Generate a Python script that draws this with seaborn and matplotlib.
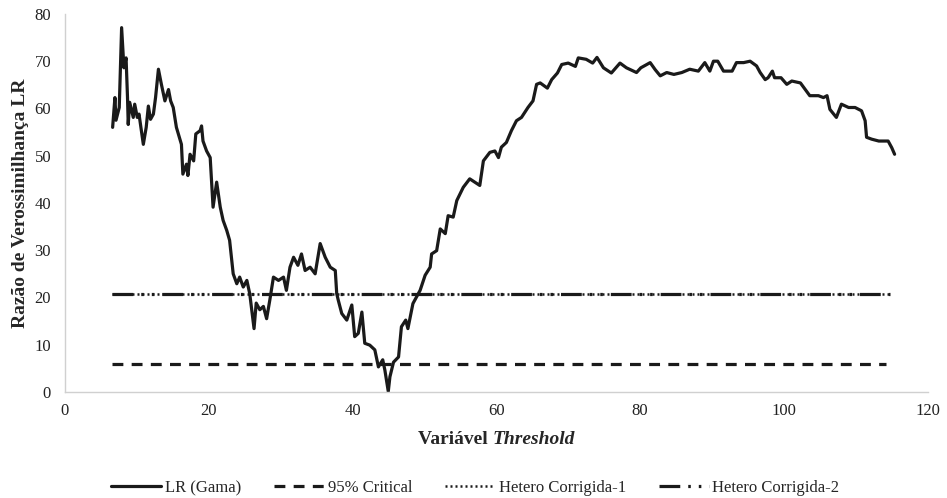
import matplotlib
matplotlib.use("Agg")
import matplotlib.pyplot as plt
import seaborn as sns
import pandas as pd
from matplotlib.offsetbox import TextArea, HPacker, AnchoredOffsetbox

# curva LR (Gama)
lr_x = [6.63, 6.95, 7.1, 7.55, 7.88, 8.2, 8.5, 8.7, 8.8, 9.0, 9.5, 9.7, 10.06, 10.3,
        10.9, 11.3, 11.6, 11.9, 12.3, 12.6, 13.0, 13.4, 13.9, 14.4, 14.7, 15.06, 15.5,
        16.2, 16.4, 16.9, 17.1, 17.4, 17.9, 18.2, 18.8, 19.0, 19.2, 19.7, 20.2, 20.6,
        21.1, 21.6, 22.0, 22.5, 22.9, 23.4, 23.9, 24.3, 24.8, 25.3, 25.7, 26.3, 26.6,
        27.1, 27.6, 28.05, 28.5, 29.0, 29.7, 30.4, 30.8, 31.3, 31.8, 32.4, 32.9, 33.4,
        34.1, 34.8, 35.5, 36.2, 36.9, 37.6, 37.8, 38.0, 38.5, 39.2, 39.9, 40.3, 40.8,
        41.3, 41.7, 42.4, 43.1, 43.6, 44.2, 44.5, 44.97, 45.2, 45.7, 46.4, 46.8, 47.4,
        47.7, 48.4, 49.4, 50.1, 50.8, 51.0, 51.7, 52.2, 52.9, 53.3, 54.0, 54.5, 55.4,
        56.3, 57.0, 57.7, 58.2, 59.1, 59.8, 60.3, 60.7, 61.4, 62.1, 62.8, 63.5, 64.4,
        65.1, 65.6, 66.1, 67.1, 67.7, 68.5, 69.1, 70.0, 71.0, 71.4, 72.5, 73.4, 74.0,
        74.9, 76.0, 77.2, 78.1, 79.5, 80.1, 81.4, 82.1, 82.8, 83.7, 84.7, 85.8, 86.9,
        88.1, 89.0, 89.7, 90.2, 90.8, 91.6, 92.8, 93.4, 94.4, 95.3, 96.2, 96.7, 97.4,
        97.8, 98.4, 98.7, 99.6, 100.4, 101.1, 102.3, 103.6, 104.8, 105.5, 106.0, 106.4,
        107.3, 108.0, 109.0, 109.9, 110.8, 111.3, 111.5, 112.2, 113.2, 114.5, 115.0, 115.4]
lr_y = [56.0, 62.3, 57.5, 60.2, 77.1, 68.6, 70.7, 62.3, 56.6, 61.3, 58.1, 60.9, 58.1, 58.8,
        52.4, 56.0, 60.5, 57.7, 58.8, 62.3, 68.3, 65.2, 61.6, 64.0, 61.6, 60.2, 56.0,
        52.4, 46.1, 48.2, 45.8, 50.3, 48.9, 54.6, 55.3, 56.3, 53.1, 51.0, 49.6, 39.1,
        44.4, 39.1, 36.3, 34.2, 32.1, 25.0, 22.9, 24.3, 22.2, 23.6, 20.8, 13.4, 18.8,
        17.4, 18.1, 15.5, 19.5, 24.3, 23.6, 24.3, 21.5, 26.4, 28.5, 26.8, 29.2, 25.7,
        26.4, 25.0, 31.4, 28.5, 26.4, 25.7, 20.8, 19.5, 16.6, 15.2, 18.4, 11.7, 12.4,
        16.9, 10.3, 9.9, 8.9, 5.3, 6.8, 4.6, 0.1, 3.2, 6.3, 7.4, 13.8, 15.2,
        13.4, 18.7, 21.5, 24.7, 26.4, 29.2, 29.9, 34.5, 33.5, 37.3, 37.0, 40.5, 43.3,
        45.1, 44.4, 43.7, 48.9, 50.7, 51.0, 49.6, 51.8, 52.8, 55.3, 57.4, 58.1, 60.2,
        61.6, 65.1, 65.4, 64.3, 66.1, 67.5, 69.3, 69.6, 68.9, 70.7, 70.4, 69.6, 70.8,
        68.6, 67.5, 69.6, 68.6, 67.6, 68.6, 69.7, 68.2, 66.9, 67.6, 67.2, 67.6, 68.3,
        67.9, 69.7, 67.9, 70.0, 70.0, 67.9, 67.9, 69.7, 69.7, 70.0, 69.0, 67.6, 66.1,
        66.5, 67.9, 66.5, 66.5, 65.1, 65.8, 65.4, 62.7, 62.7, 62.3, 62.7, 59.8,
        58.1, 60.9, 60.2, 60.2, 59.5, 57.4, 53.9, 53.5, 53.1, 53.1, 51.7, 50.3]

# linhas horizontais (valores críticos)
crit_x = [6.6, 114.2]
crit_y = [5.99, 5.99]
het1_x = [6.6, 114.8]
het1_y = [20.65, 20.65]
het2_x = [6.6, 114.8]
het2_y = [20.75, 20.75]

sns.set_theme(style="white")
plt.rcParams["font.family"] = ["Liberation Serif", "DejaVu Serif"]

fig = plt.figure(figsize=(9.47, 4.98), dpi=100)
ax = fig.add_axes([0.0686, 0.213, 0.911, 0.759])

cor = "#1a1a1a"
df_lr = pd.DataFrame({"x": lr_x, "y": lr_y})
sns.lineplot(data=df_lr, x="x", y="y", ax=ax, color=cor, lw=2.3,
             estimator=None, sort=False, label="LR (Gama)")
sns.lineplot(x=crit_x, y=crit_y, ax=ax, color=cor, lw=2.3, label="95% Critical")
sns.lineplot(x=het1_x, y=het1_y, ax=ax, color=cor, lw=1.8, label="Hetero Corrigida-1")
sns.lineplot(x=het2_x, y=het2_y, ax=ax, color=cor, lw=2.3, label="Hetero Corrigida-2")

linhas = ax.get_lines()
linhas[1].set_dashes([3.4, 2.6])
linhas[2].set_dashes([0.8, 1.2])
linhas[3].set_dashes([6.5, 2.5, 0.8, 2.5, 0.8, 2.5])

ax.set_xlim(0, 120)
ax.set_ylim(0, 80)
ax.set_xticks(range(0, 121, 20))
ax.set_yticks(range(0, 81, 10))
ax.tick_params(length=0, labelsize=12, colors="#222222")
ax.tick_params(axis="y", pad=10)
ax.tick_params(axis="x", pad=8)
for s in ["top", "right"]:
    ax.spines[s].set_visible(False)
for s in ["left", "bottom"]:
    ax.spines[s].set_color("#d0d0d0")
    ax.spines[s].set_linewidth(1.0)

ax.set_ylabel("Razão de Verossimilhança LR", fontsize=14, fontweight="bold",
              labelpad=4)
ax.set_xlabel("")

# rótulo do eixo x com parte em itálico
t1 = TextArea("Variável ", textprops=dict(fontsize=14, fontweight="bold",
                                          family=["Liberation Serif"]))
t2 = TextArea("Threshold", textprops=dict(fontsize=14, fontweight="bold",
                                          style="italic", family=["Liberation Serif"]))
caixa = HPacker(children=[t1, t2], align="baseline", pad=0, sep=0)
anc = AnchoredOffsetbox(loc="center", child=caixa, frameon=False,
                        bbox_to_anchor=(0.5, -0.127), bbox_transform=ax.transAxes,
                        borderpad=0)
ax.add_artist(anc)

ax.legend(loc="center", bbox_to_anchor=(0.4757, -0.255), ncol=4, frameon=False,
          fontsize=12, handlelength=3.0, columnspacing=2.0, handletextpad=0.2)

fig.savefig("out.png", dpi=100)
